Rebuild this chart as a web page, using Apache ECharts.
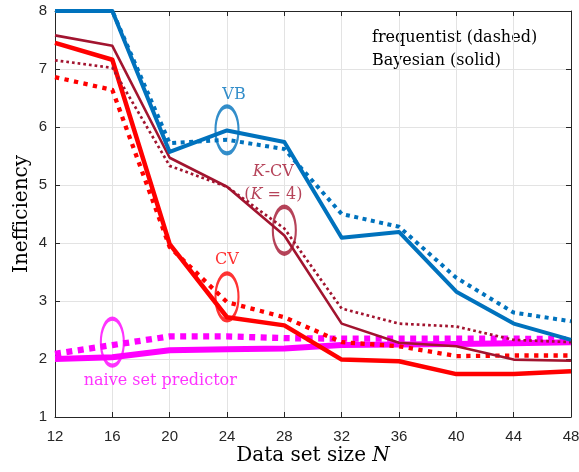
<!DOCTYPE html>
<html><head><meta charset="utf-8">
<script src="https://cdn.jsdelivr.net/npm/echarts@6/dist/echarts.min.js"></script>
<style>html,body{margin:0;padding:0;background:#fff}#c{width:579px;height:472px}</style>
</head><body><div id="c"></div>
<script>
// ---- data ----
const N = [12, 16, 20, 24, 28, 32, 36, 40, 44, 48];
const vbBayes    = [8, 8, 5.57, 5.94, 5.74, 4.09, 4.19, 3.16, 2.61, 2.33];
const vbFreq     = [8, 8, 5.72, 5.78, 5.62, 4.50, 4.28, 3.40, 2.80, 2.65];
const kcvBayes   = [7.58, 7.40, 5.47, 4.97, 4.13, 2.61, 2.28, 2.22, 1.99, 1.97];
const kcvFreq    = [7.15, 7.02, 5.33, 4.97, 4.25, 2.87, 2.61, 2.56, 2.33, 2.29];
const cvBayes    = [7.45, 7.16, 3.98, 2.72, 2.58, 1.99, 1.96, 1.74, 1.74, 1.79];
const cvFreq     = [6.86, 6.64, 3.93, 2.98, 2.72, 2.29, 2.22, 2.05, 2.06, 2.06];
const naiveBayes = [2.00, 2.03, 2.15, 2.17, 2.18, 2.24, 2.25, 2.26, 2.27, 2.29];
const naiveFreq  = [2.09, 2.24, 2.39, 2.39, 2.36, 2.35, 2.35, 2.35, 2.35, 2.34];
const xTicks = {min: 12, max: 48, step: 4};
const yTicks = {min: 1, max: 8, step: 1};
// annotation anchors (data coords)
const annVB = [24, 5.95];
const annKCV = [28, 4.22];
const annCV = [24, 3.07];
const annNaive = [16, 2.29];

// ---- styling ----
const serif = '"DejaVu Serif", "Liberation Serif", serif';
const sans = '"Liberation Sans", Arial, sans-serif';
const C = {vb: '#0072BD', kcv: '#A2142F', cv: '#FF0000', naive: '#FF00FF'};
const axisCol = '#262626';

function line(name, vals, color, width, dash, z) {
  return {
    type: 'line', name: name, data: N.map((n, i) => [n, vals[i]]),
    symbol: 'none', clip: false, silent: true, z: z,
    lineStyle: {color: color, width: width, type: dash || 'solid', cap: 'butt', join: 'round'}
  };
}
function ellipse(pt, color, label) {
  return {
    type: 'scatter', data: [pt], symbol: 'circle', symbolSize: [23, 47], silent: true, z: 20,
    itemStyle: {color: 'rgba(0,0,0,0)', borderColor: color, borderWidth: 3},
    label: Object.assign({show: true, color: color, fontFamily: serif, fontSize: 16}, label)
  };
}
const hideAxisBits = {show: false};
const chart = echarts.init(document.getElementById('c'));
chart.setOption({
  animation: false,
  backgroundColor: '#fff',
  grid: {left: 55, right: 8, top: 11, bottom: 55, containLabel: false, outerBoundsMode: 'none'},
  xAxis: [{
    type: 'value', min: xTicks.min, max: xTicks.max, interval: xTicks.step,
    name: 'Data set size {i|N}', nameLocation: 'middle', nameGap: 29, nameMoveOverlap: false,
    nameTextStyle: {fontFamily: serif, fontSize: 20, color: '#000', verticalAlign: 'top',
      rich: {i: {fontStyle: 'italic', fontFamily: serif, fontSize: 20, color: '#000'}}},
    axisLine: {show: true, lineStyle: {color: axisCol, width: 1}},
    axisTick: {show: true, inside: true, length: 5, lineStyle: {color: axisCol}},
    axisLabel: {color: axisCol, fontFamily: sans, fontSize: 15, margin: 12},
    splitLine: {show: true, lineStyle: {color: '#e3e3e3', width: 1}}
  }, {
    type: 'value', position: 'top', min: xTicks.min, max: xTicks.max, interval: xTicks.step,
    axisLine: {show: true, lineStyle: {color: axisCol, width: 1}},
    axisTick: {show: true, inside: true, length: 5, lineStyle: {color: axisCol}},
    axisLabel: hideAxisBits, splitLine: hideAxisBits
  }],
  yAxis: [{
    type: 'value', min: yTicks.min, max: yTicks.max, interval: yTicks.step,
    name: 'Inefficiency', nameLocation: 'middle', nameGap: 23, nameMoveOverlap: false,
    nameTextStyle: {fontFamily: serif, fontSize: 20, color: '#000'},
    axisLine: {show: true, lineStyle: {color: axisCol, width: 1}},
    axisTick: {show: true, inside: true, length: 5, lineStyle: {color: axisCol}},
    axisLabel: {color: axisCol, fontFamily: sans, fontSize: 15, margin: 8},
    splitLine: {show: true, lineStyle: {color: '#e3e3e3', width: 1}}
  }, {
    type: 'value', position: 'right', min: yTicks.min, max: yTicks.max, interval: yTicks.step,
    axisLine: {show: true, lineStyle: {color: axisCol, width: 1}},
    axisTick: {show: true, inside: true, length: 5, lineStyle: {color: axisCol}},
    axisLabel: hideAxisBits, splitLine: hideAxisBits
  }],
  series: [
    line('naive freq', naiveFreq, C.naive, 6.3, [6, 5.5], 2),
    line('naive bayes', naiveBayes, C.naive, 6, 'solid', 3),
    line('CV freq', cvFreq, C.cv, 4.3, [4.3, 5.4], 4),
    line('CV bayes', cvBayes, C.cv, 4.5, 'solid', 5),
    line('KCV freq', kcvFreq, C.kcv, 2.7, [2.7, 3], 6),
    line('KCV bayes', kcvBayes, C.kcv, 2.6, 'solid', 7),
    line('VB freq', vbFreq, C.vb, 4, [4, 4.5], 8),
    line('VB bayes', vbBayes, C.vb, 4, 'solid', 9),
    ellipse(annVB, C.vb, {position: 'top', distance: 1, offset: [7, 0], formatter: 'VB'}),
    ellipse(annKCV, C.kcv, {position: 'top', distance: -2, offset: [-11, 0], lineHeight: 23,
      formatter: '{i|K}-CV\n({i|K} = 4)',
      rich: {i: {fontStyle: 'italic', fontFamily: serif, fontSize: 16, color: C.kcv}}}),
    ellipse(annCV, C.cv, {position: 'top', distance: 3, formatter: 'CV'}),
    ellipse(annNaive, C.naive, {position: 'bottom', distance: 5, offset: [48, 0], formatter: 'naive set predictor'})
  ],
  graphic: [{
    type: 'text', left: 372, top: 26, silent: true,
    style: {text: 'frequentist (dashed)\nBayesian (solid)', fontFamily: serif, fontSize: 16,
      lineHeight: 23, fill: '#000'}
  }]
});
</script>
</body></html>
